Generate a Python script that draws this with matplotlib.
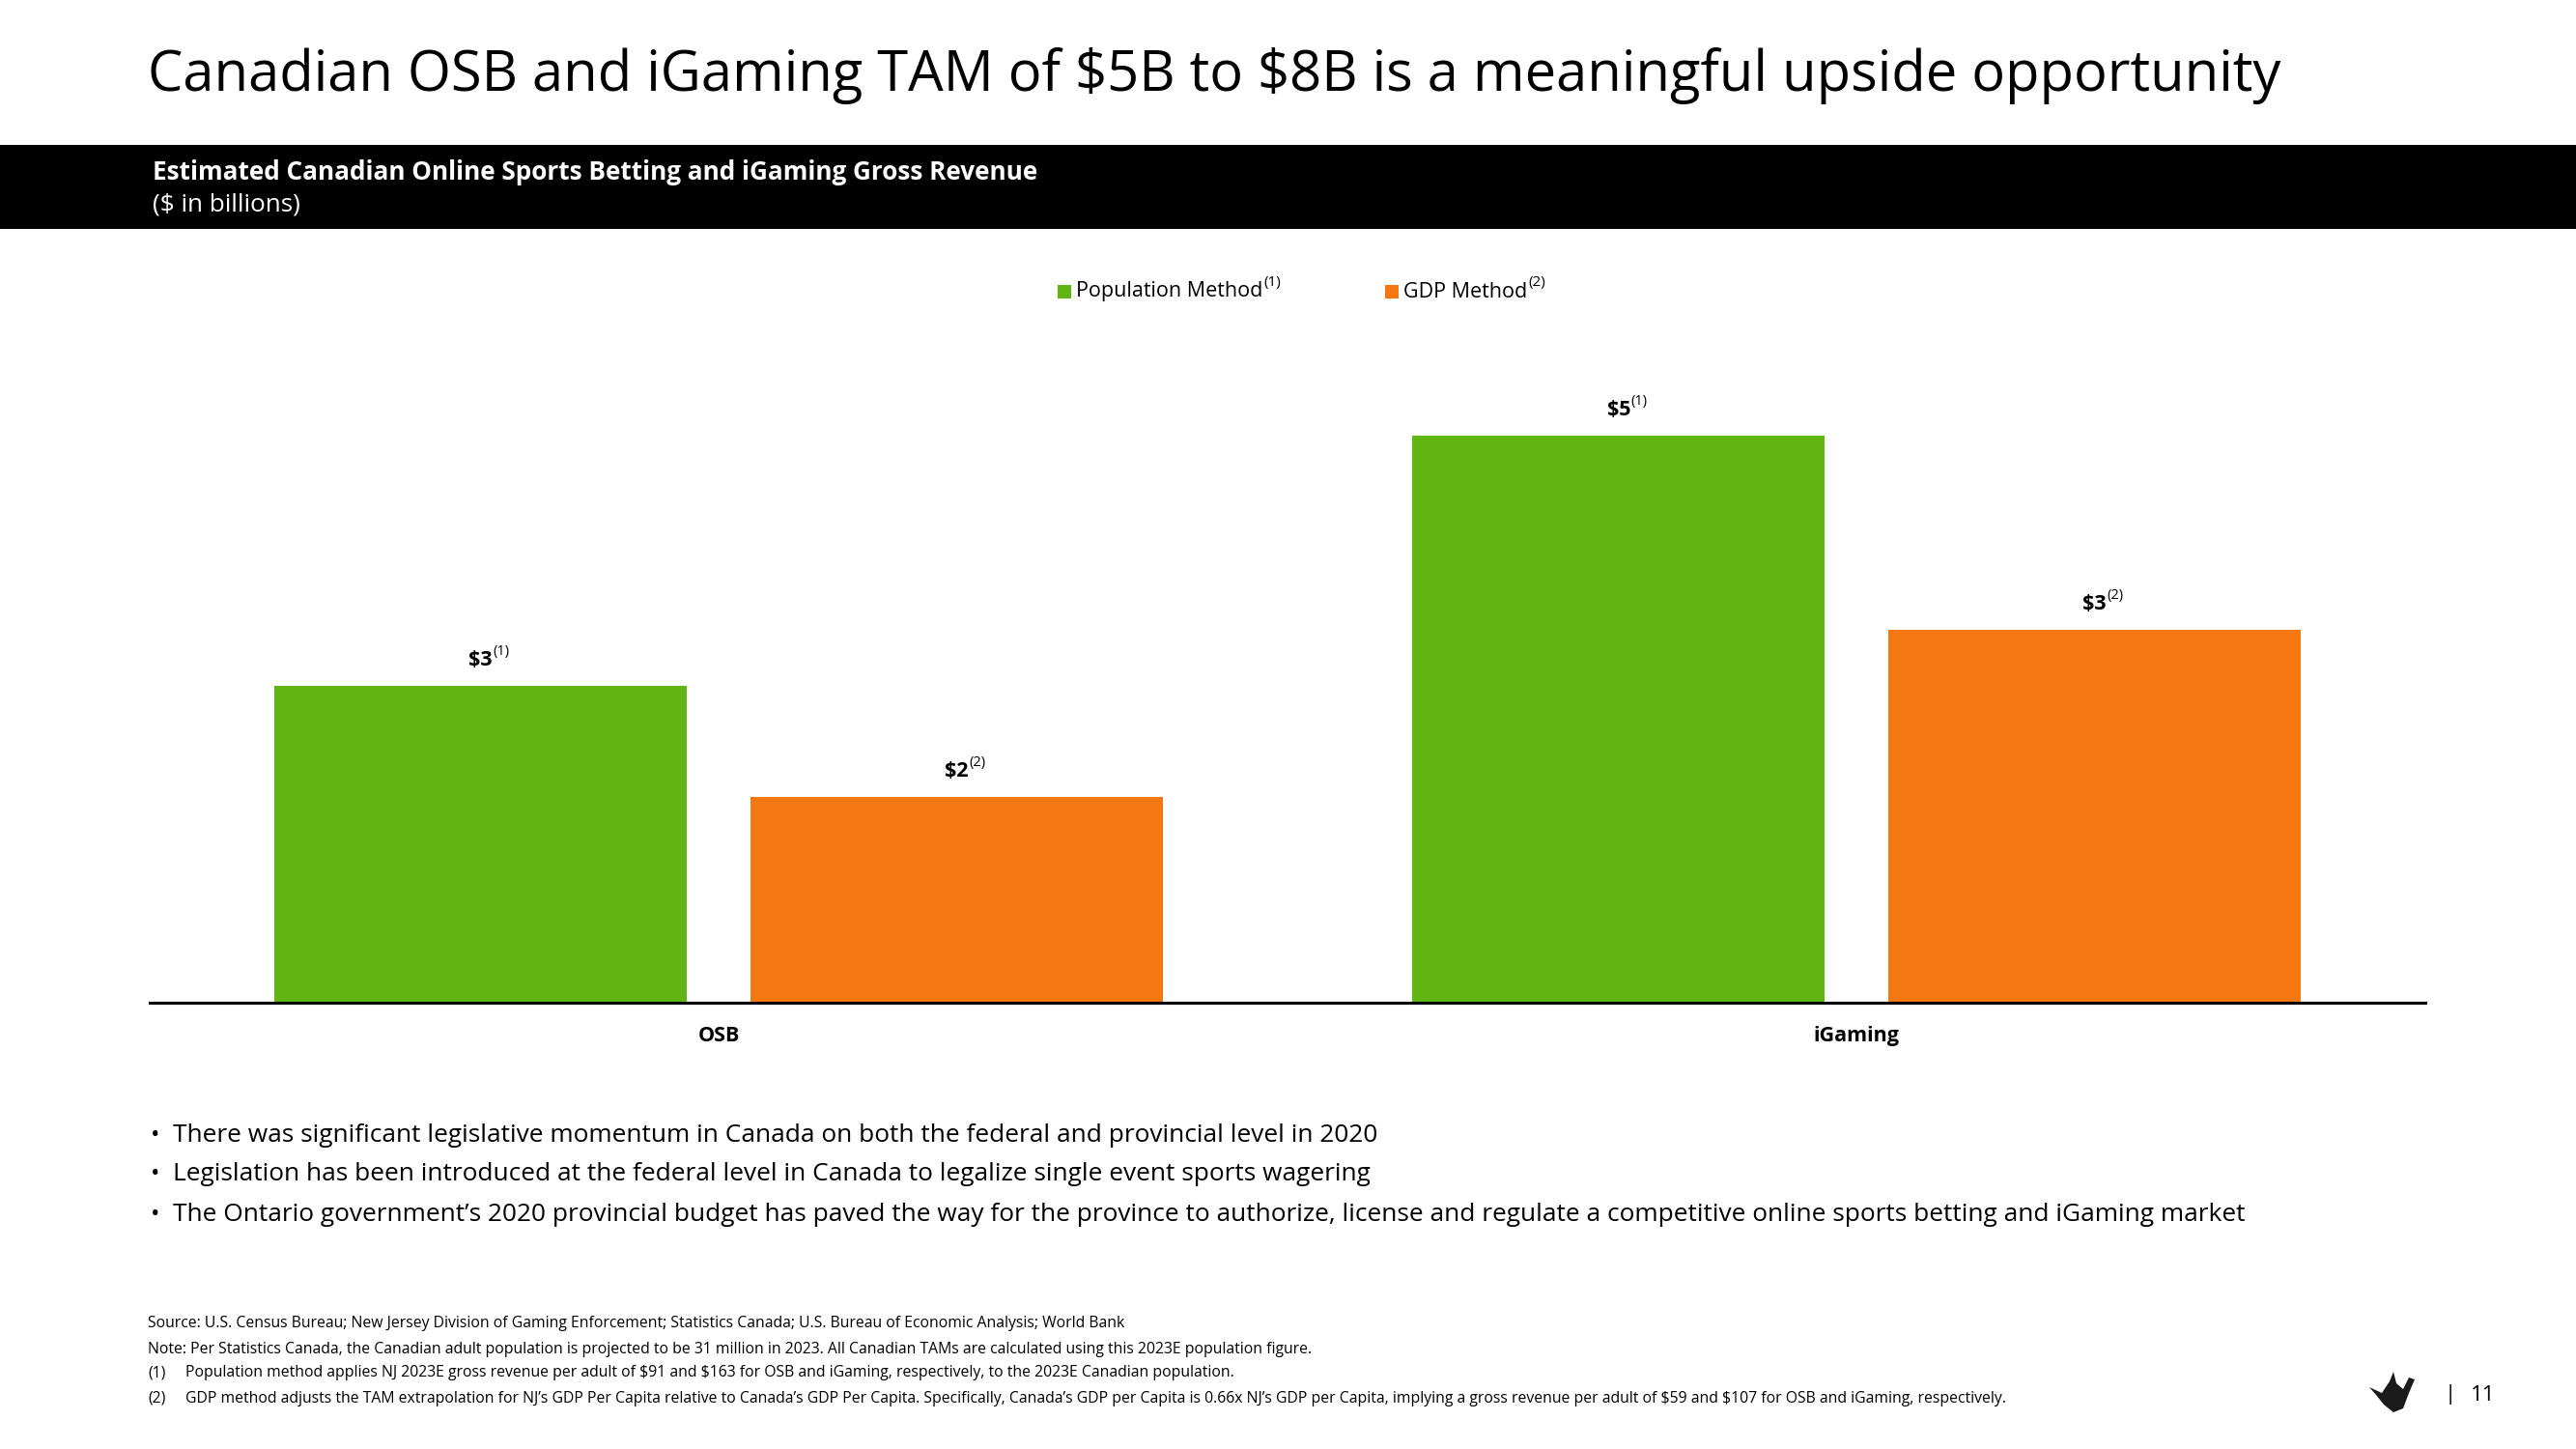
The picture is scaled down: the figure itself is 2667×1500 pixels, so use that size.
import matplotlib.pyplot as plt
from matplotlib.patches import Rectangle, Polygon
from matplotlib.text import Annotation

# ---- data ----
categories = ["OSB", "iGaming"]
series_names = ["Population Method", "GDP Method"]
series_notes = ["(1)", "(2)"]
population_vals = [2.82, 5.05]   # $B, 31M adults x $91 / $163
gdp_vals = [1.83, 3.32]          # $B, 31M adults x $59 / $107
population_labels = ["$3", "$5"]
gdp_labels = ["$2", "$3"]

title = "Canadian OSB and iGaming TAM of $5B to $8B is a meaningful upside opportunity"
header = "Estimated Canadian Online Sports Betting and iGaming Gross Revenue"
subheader = "($ in billions)"
bullets = [
    "There was significant legislative momentum in Canada on both the federal and provincial level in 2020",
    "Legislation has been introduced at the federal level in Canada to legalize single event sports wagering",
    "The Ontario government\u2019s 2020 provincial budget has paved the way for the province to authorize, "
    "license and regulate a competitive online sports betting and iGaming market",
]
source = "Source: U.S. Census Bureau; New Jersey Division of Gaming Enforcement; Statistics Canada; U.S. Bureau of Economic Analysis; World Bank"
note = ("Note: Per Statistics Canada, the Canadian adult population is projected to be 31 million in 2023. "
        "All Canadian TAMs are calculated using this 2023E population figure.")
footnotes = [
    ("(1)", "Population method applies NJ 2023E gross revenue per adult of $91 and $163 for OSB and iGaming, "
            "respectively, to the 2023E Canadian population."),
    ("(2)", "GDP method adjusts the TAM extrapolation for NJ\u2019s GDP Per Capita relative to Canada\u2019s GDP Per Capita. "
            "Specifically, Canada\u2019s GDP per Capita is 0.66x NJ\u2019s GDP per Capita, implying a gross revenue "
            "per adult of $59 and $107 for OSB and iGaming, respectively."),
]
page_number = "11"

GREEN = "#61B512"
ORANGE = "#F47712"
colors = [GREEN, ORANGE]

W, H = 2667, 1500
plt.rcParams["font.family"] = ["Open Sans", "DejaVu Sans"]


def esc(s):
    return s.replace("$", r"\$")


def fx(x):
    return x / W


def fy(y):
    return 1 - y / H


fig = plt.figure(figsize=(W / 100, H / 100), dpi=100)
fig.patch.set_facecolor("white")

# title
fig.text(fx(153), fy(78), esc(title), fontsize=41.7, va="center", ha="left", color="black")

# black header band
fig.patches.append(Rectangle((0, fy(237)), 1, (237 - 150) / H, transform=fig.transFigure,
                             facecolor="black", edgecolor="none", zorder=0))
fig.text(fx(158), fy(178), esc(header), fontsize=18.8, fontweight="bold", color="white", va="center")
fig.text(fx(158), fy(212), esc(subheader), fontsize=18.8, color="white", va="center")

# chart
ax = fig.add_axes([fx(155), fy(1038), (2511 - 155) / W, (1038 - 300) / H])
x = range(len(categories))
offset, width = 0.209, 0.3625
series = [(population_vals, population_labels), (gdp_vals, gdp_labels)]
for k, (vals, labels) in enumerate(series):
    xs = [i + (k * 2 - 1) * offset for i in x]
    bars = ax.bar(xs, vals, width=width, color=colors[k], zorder=2)
    for b, lab in zip(bars, labels):
        t = ax.annotate(esc(lab), (b.get_x() + b.get_width() / 2, b.get_height()),
                        xytext=(0, 12), textcoords="offset points", ha="center", va="bottom",
                        fontsize=15.5, fontweight="bold")
        ax.annotate(series_notes[k], xy=(1, 0.55), xycoords=t, xytext=(0.5, 0),
                    textcoords="offset points", ha="left", va="bottom", fontsize=10.5)

ax.set_xlim(-0.5, 1.5)
ax.set_ylim(0, 738 / 116.2)
for s in ["top", "right", "left"]:
    ax.spines[s].set_visible(False)
ax.spines["bottom"].set_linewidth(2.2)
ax.spines["bottom"].set_zorder(3)
ax.set_yticks([])
ax.set_xticks(list(x))
ax.set_xticklabels(categories, fontsize=15.5, fontweight="bold")
ax.tick_params(axis="x", length=0, pad=17)

# legend (manual, centred above the chart)
leg_x = [1095, 1434]
for k, name in enumerate(series_names):
    fig.patches.append(Rectangle((fx(leg_x[k]), fy(309)), 14 / W, 14 / H, transform=fig.transFigure,
                                 facecolor=colors[k], edgecolor="none"))
    t = fig.text(fx(leg_x[k] + 19), fy(302), name, fontsize=15.5, va="center")
    fig.add_artist(Annotation(series_notes[k], xy=(1, 0.6), xycoords=t, xytext=(0.5, 0),
                              textcoords="offset points", ha="left", va="bottom", fontsize=11))

# bullets
for y, b in zip([1175, 1216, 1258], bullets):
    fig.text(fx(156), fy(y), "\u2022", fontsize=18, va="center")
    fig.text(fx(179), fy(y), esc(b), fontsize=18.9, va="center")

# footnotes
fs = 11.3
fig.text(fx(153), fy(1370), esc(source), fontsize=fs, va="center")
fig.text(fx(153), fy(1397), esc(note), fontsize=fs, va="center")
for y, (n, txt) in zip([1421, 1448], footnotes):
    fig.text(fx(153), fy(y), n, fontsize=fs, va="center")
    fig.text(fx(192), fy(y), esc(txt), fontsize=fs, va="center")

# logo + page number
crown = [(2453, 1436), (2466, 1442), (2474, 1430), (2478, 1420), (2481, 1432), (2488, 1438),
         (2494, 1426), (2500, 1428), (2494, 1442), (2488, 1458), (2478, 1462), (2468, 1454), (2460, 1444)]
fig.patches.append(Polygon([(fx(a), fy(b)) for a, b in crown], closed=True, transform=fig.transFigure,
                           facecolor="#1a1a1a", edgecolor="none"))
fig.text(fx(2531), fy(1444), "|", fontsize=16, va="center")
fig.text(fx(2558), fy(1444), page_number, fontsize=16, va="center")

fig.savefig("out.png", dpi=100)
